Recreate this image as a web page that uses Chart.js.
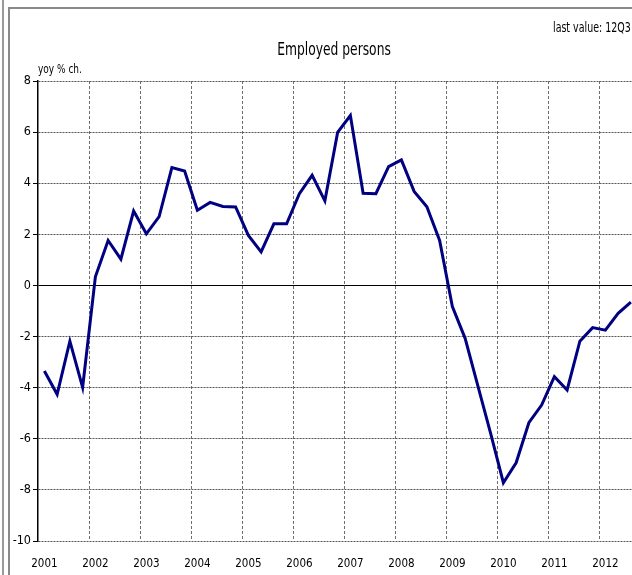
<!DOCTYPE html>
<html>
<head>
<meta charset="utf-8">
<script src="https://cdn.jsdelivr.net/npm/chart.js@4/dist/chart.umd.min.js"></script>
<style>
  html, body { margin: 0; padding: 0; background: #fff; overflow: hidden; width: 632px; height: 575px; }
  #wrap { position: relative; width: 632px; height: 575px; overflow: hidden; }
  #c { position: absolute; left: 0; top: 0; }
  .txt { position: absolute; font-family: "DejaVu Sans Condensed", "Liberation Sans Narrow", sans-serif; color: #000; white-space: nowrap; }
  .vline1 { position: absolute; left: 2px; top: 0; width: 2px; height: 575px; background: #9a9a9a; }
  .frameL { position: absolute; left: 8px; top: 7px; width: 2px; height: 568px; background: #8a8a8a; }
  .frameT { position: absolute; left: 8px; top: 7px; width: 624px; height: 2px; background: #8a8a8a; }
</style>
</head>
<body>
<div id="wrap">
  <div class="vline1"></div>
  <div class="frameL"></div>
  <div class="frameT"></div>
  <canvas id="c" width="680" height="575" style="width:680px;height:575px"></canvas>
  <div class="txt" style="left:0;width:668px;text-align:center;top:38px;font-size:18px;transform:scaleX(0.76);transform-origin:334px 0;">Employed persons</div>
  <div class="txt" style="left:553px;top:19px;font-size:13.5px;transform:scaleX(0.78);transform-origin:0 0;">last value: 12Q3</div>
  <div class="txt" style="left:38px;top:61px;font-size:12.5px;transform:scaleX(0.8);transform-origin:0 0;">yoy % ch.</div>
</div>
<script>
// Quarterly categories 2001Q1 .. 2012Q4
const years = ['2001','2002','2003','2004','2005','2006','2007','2008','2009','2010','2011','2012'];
const quarters = ['Q1','Q2','Q3','Q4'];
const categories = [];
years.forEach(y => quarters.forEach(q => categories.push(y + q)));

// Employed persons, yoy % change (2001Q1 .. 2012Q3)
const employed = [
  -3.35, -4.26, -2.18, -3.99,
   0.34,  1.76,  1.03,  2.91,
   2.02,  2.69,  4.61,  4.48,
   2.94,  3.25,  3.09,  3.07,
   1.96,  1.31,  2.41,  2.41,
   3.59,  4.31,  3.31,  5.99,
   6.65,  3.61,  3.59,  4.65,
   4.91,  3.68,  3.08,  1.76,
  -0.83, -2.07, -3.93, -5.79,
  -7.72, -6.94, -5.37, -4.68,
  -3.57, -4.09, -2.18, -1.65,
  -1.75, -1.09, -0.65
];

const yTicks = [8, 6, 4, 2, 0, -2, -4, -6, -8, -10];

const FONT = '"DejaVu Sans Condensed", "Liberation Sans Narrow", sans-serif';

new Chart(document.getElementById('c'), {
  type: 'line',
  data: {
    labels: categories,
    datasets: [{
      label: 'Employed persons',
      data: employed,
      borderColor: '#000080',
      borderWidth: 3,
      pointRadius: 0,
      tension: 0,
      fill: false
    }]
  },
  options: {
    responsive: false,
    animation: false,
    events: [],
    layout: { padding: { left: 0, right: 30, top: 81, bottom: 0 } },
    plugins: { legend: { display: false }, title: { display: false }, tooltip: { enabled: false } },
    scales: {
      x: {
        type: 'category',
        offset: true,
        afterFit: scale => { scale.height = 34; },
        border: {
          display: false,
          dash: [3, 2]
        },
        grid: {
          offset: true,
          drawTicks: false,
          tickLength: 0,
          lineWidth: 1,
          color: ctx => (ctx.index % 4 === 0 && ctx.index !== 0) ? '#6e6e6e' : 'rgba(0,0,0,0)'
        },
        ticks: {
          autoSkip: false,
          maxRotation: 0,
          minRotation: 0,
          padding: 16,
          color: '#000',
          font: { family: FONT, size: 11.5 },
          callback: function(value, index) {
            return index % 4 === 0 ? years[index / 4] : '';
          }
        }
      },
      y: {
        min: -10,
        max: 8,
        afterBuildTicks: scale => { scale.ticks = yTicks.map(v => ({ value: v })); },
        afterFit: scale => { scale.width = 38; },
        border: {
          display: true,
          color: '#000',
          width: 1.5,
          dash: ctx => (ctx.tick && ctx.tick.value === 0) ? [] : [2, 1]
        },
        grid: {
          drawTicks: true,
          tickLength: 5,
          tickColor: '#000',
          lineWidth: 1,
          color: ctx => (ctx.tick && ctx.tick.value === 0) ? '#000' : '#555'
        },
        ticks: {
          padding: 2,
          color: '#000',
          font: { family: FONT, size: 12.5 },
          callback: v => String(v)
        }
      }
    }
  }
});
</script>
</body>
</html>
